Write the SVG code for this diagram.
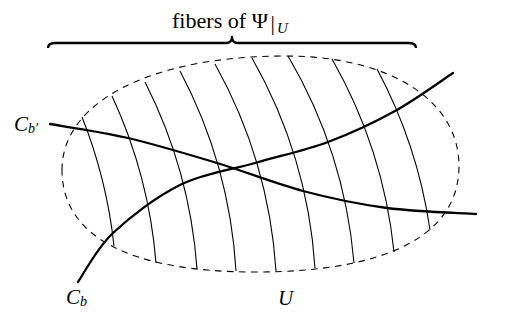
<svg xmlns="http://www.w3.org/2000/svg" width="509" height="330" viewBox="0 0 509 330">
<style>
.fiber{fill:none;stroke:#000;stroke-width:1.1}
.curve{fill:none;stroke:#000;stroke-width:2.3;stroke-linecap:round}
.region{fill:none;stroke:#000;stroke-width:1.1;stroke-dasharray:6.5 5.5}
.brace{fill:none;stroke:#000;stroke-width:2.3;stroke-linejoin:round}
.lbl{font-family:"Liberation Serif","DejaVu Serif",serif;fill:#000}
.it{font-style:italic}
</style>
<rect width="509" height="330" fill="#fff"/>
<g id="region-U">
<path class="region" d="M62,170 C62,101.6 151.2,56 285,56 C389.4,56 459,100 459,166 C459,234.9 387.6,272 255,272 C129.5,272 62,236.3 62,170 Z"/>
</g>
<g id="fibers">
<path class="fiber" d="M82,117 A490,490 0 0 1 114,246"/>
<path class="fiber" d="M112,96 A490,490 0 0 1 156,263"/>
<path class="fiber" d="M145,82 A490,490 0 0 1 197,269"/>
<path class="fiber" d="M180,71 A490,490 0 0 1 236,271"/>
<path class="fiber" d="M215,64 A490,490 0 0 1 276,271"/>
<path class="fiber" d="M252,58 A490,490 0 0 1 315,268"/>
<path class="fiber" d="M288,56 A490,490 0 0 1 354,263"/>
<path class="fiber" d="M332,59 A490,490 0 0 1 394,252"/>
<path class="fiber" d="M377,69 A490,490 0 0 1 430,230"/>
</g>
<g id="connectors">
<path id="Cb-prime-curve" class="curve" d="M50,124 C63,126.3 100.2,131.5 128,138 C155.8,144.5 187.8,154.2 217,163 C246.2,171.8 274.7,183.5 303,191 C331.3,198.5 358.2,204.2 387,208 C415.8,211.8 461.2,213 476,214"/>
<path id="Cb-curve" class="curve" d="M78,282 C83.8,273.8 96,249.2 113,233 C130,216.8 156.3,196.7 180,185 C203.7,173.3 230.3,170.2 255,163 C279.7,155.8 304.7,150.7 328,142 C351.3,133.3 374.2,122.5 395,111 C415.8,99.5 443.3,79.3 453,73"/>
</g>
<g id="brace">
<path class="brace" d="M48,48 Q48,43 55,43 L226,43 Q232,43 232,37 Q232,43 238,43 L409,43 Q416,43 416,48"/>
<text class="lbl" x="172" y="28" font-size="21" textLength="96" lengthAdjust="spacingAndGlyphs">fibers of Ψ</text>
<text class="lbl" x="270.5" y="30" font-size="22">|</text>
<text class="lbl it" x="277" y="33" font-size="15">U</text>
</g>
<g id="label-Cb-prime">
<text class="lbl it" x="14" y="131" font-size="21">C<tspan font-size="14" dy="2">b′</tspan></text>
</g>
<g id="label-Cb">
<text class="lbl it" x="66" y="304" font-size="21">C<tspan font-size="14" dy="2">b</tspan></text>
</g>
<g id="label-U">
<text class="lbl it" x="278" y="305" font-size="21">U</text>
</g>
</svg>
